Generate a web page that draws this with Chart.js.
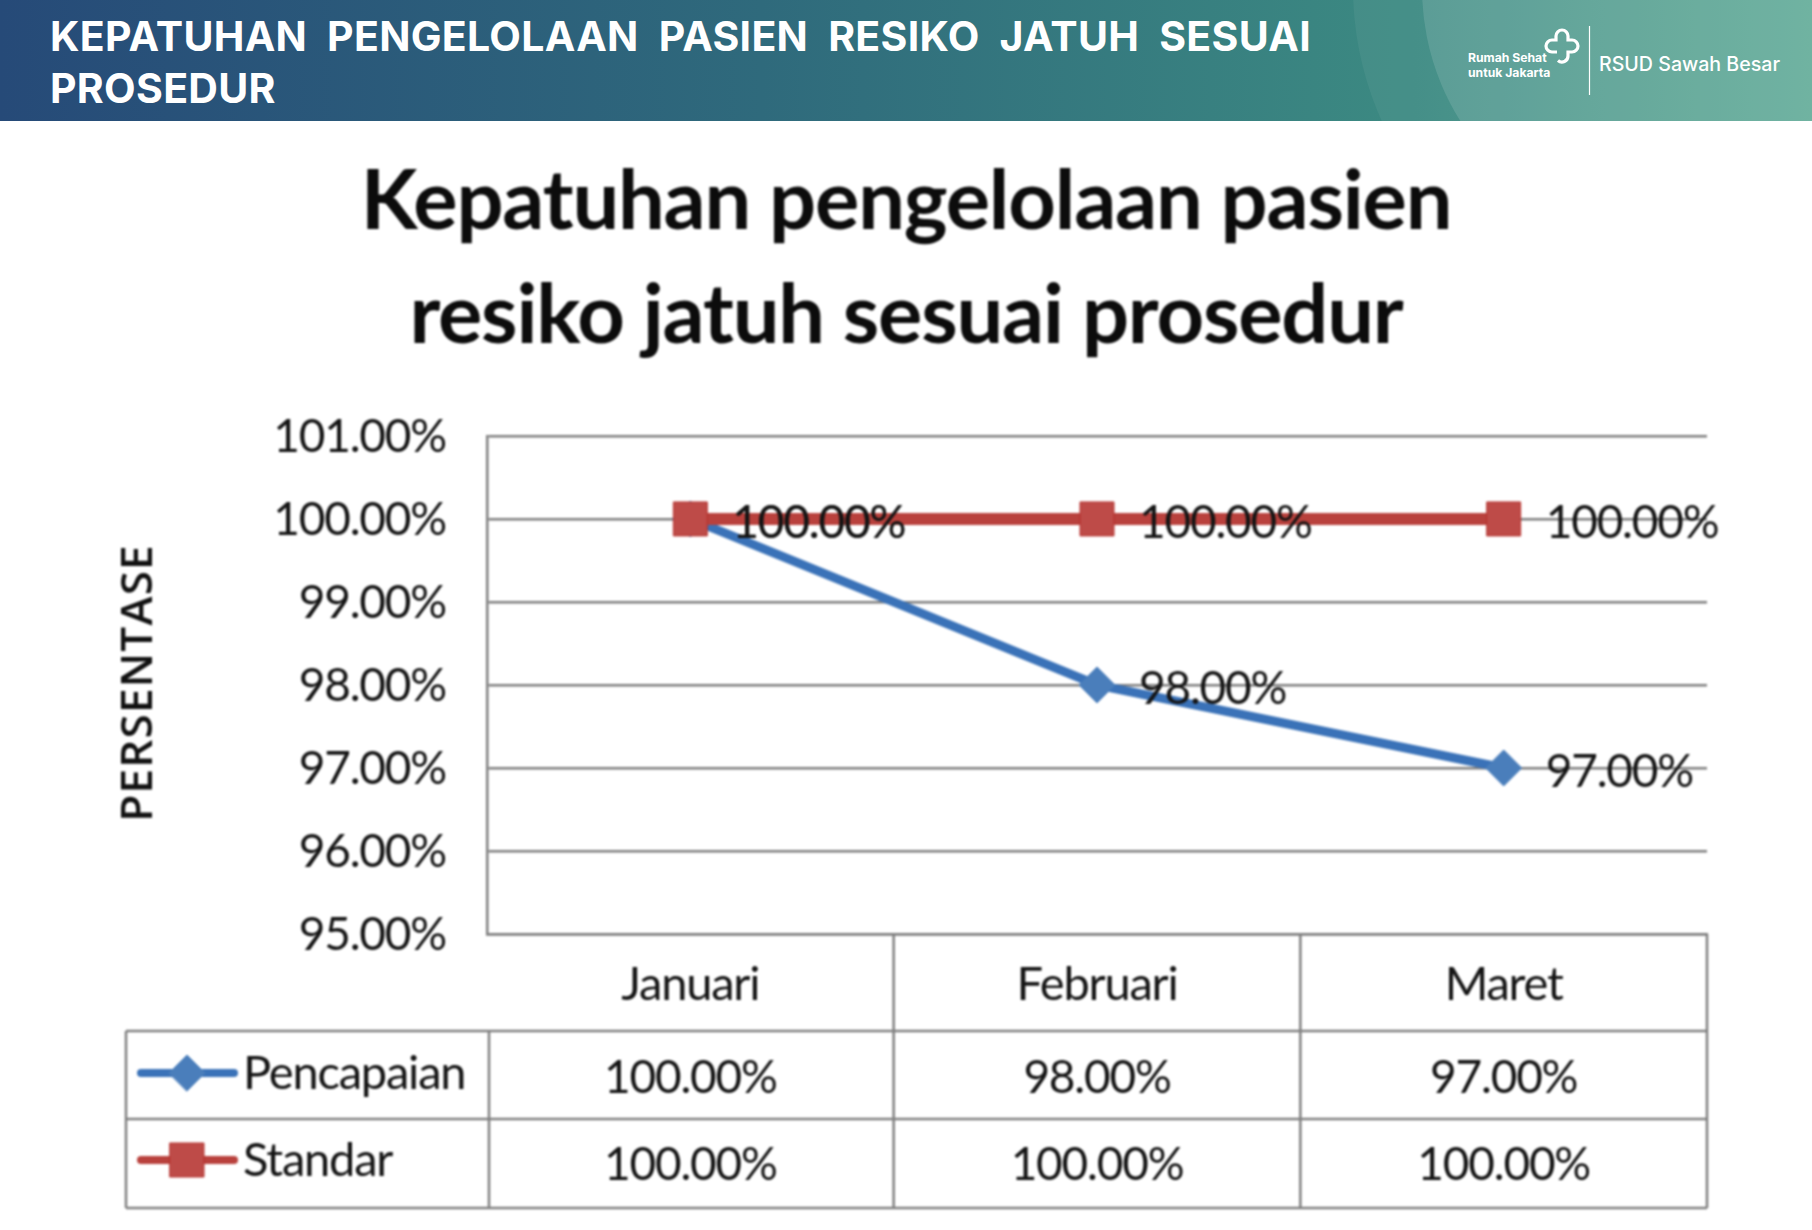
<!DOCTYPE html>
<html>
<head>
<meta charset="utf-8">
<title>Kepatuhan pengelolaan pasien resiko jatuh</title>
<script src="https://cdn.jsdelivr.net/npm/chart.js@4"></script>
<style>
  html, body { margin: 0; padding: 0; background: #fff; width: 1812px; height: 1230px; overflow: hidden; }
  #banner { position: absolute; left: 0; top: 0; width: 1812px; height: 121px; overflow: hidden;
            background: linear-gradient(90deg, #264a78 0%, #2f6a7c 42%, #3c8a82 78%, #55a590 100%); }
  #banner svg { position: absolute; left: 0; top: 0; }
  #heading { position: absolute; left: 50px; top: 10px; width: 1300px; margin: 0; color: #fff;
             font: 700 41px/52px Inter, sans-serif; letter-spacing: 0.3px; word-spacing: 10px; }
  #logoText { position: absolute; left: 1468px; top: 50px; color: #fff; font: 700 12.2px/15px Inter, sans-serif; }
  #hospital { position: absolute; left: 1599px; top: 51px; color: #fff; font: 500 19.6px/26px Inter, sans-serif; }
  #chart { position: absolute; left: 0; top: 121px; filter: blur(0.8px); }
</style>
</head>
<body>
<div id="banner">
  <svg width="1812" height="121">
    <circle cx="1675" cy="-12" r="322" fill="#ffffff" fill-opacity="0.05"/>
    <circle cx="1672" cy="-12" r="250" fill="#ffffff" fill-opacity="0.12"/>
    <path d="M1557 52 H1552 a6 6 0 0 1 0 -12 H1556 V36 a6 6 0 0 1 12 0 V40 H1572 a6 6 0 0 1 0 12 H1568 V56 a6 6 0 0 1 -10 4.5"
          fill="none" stroke="#fff" stroke-width="3.2"/>
    <line x1="1589.5" y1="26" x2="1589.5" y2="95" stroke="#fff" stroke-width="1.2"/>
  </svg>
  <h1 id="heading">KEPATUHAN PENGELOLAAN PASIEN RESIKO JATUH SESUAI PROSEDUR</h1>
  <div id="logoText">Rumah Sehat<br>untuk Jakarta</div>
  <div id="hospital">RSUD Sawah Besar</div>
</div>
<canvas id="chart" width="1812" height="1109"></canvas>
<script>
const categories = ['Januari', 'Februari', 'Maret'];
const pencapaian = [100, 98, 97];
const standar = [100, 100, 100];
const seriesNames = ['Pencapaian', 'Standar'];
const titleLines = ['Kepatuhan pengelolaan pasien', 'resiko jatuh sesuai prosedur'];
const axisTitle = 'PERSENTASE';

const FONT = 'Lato, sans-serif';
const INK = '#141414';
const RULE = '#7f7f7f';
const pct = v => Number(v).toFixed(2) + '%';

// Table geometry below the plot, relative to the canvas
const tableLeft = 126;
const rowLines = [910, 998, 1087];
const rowCentres = [957, 1044];
const keyLine = [141, 234];
const keyMarkerX = 187;
const keyTextX = 243;

const tightText = {
  id: 'tightText',
  beforeDraw(chart) { chart.ctx.letterSpacing = '-1.2px'; }
};

// Rotated axis caption, spaced wider than the rest of the text
const axisCaption = {
  id: 'axisCaption',
  afterDraw(chart) {
    const { ctx, scales: { y } } = chart;
    ctx.save();
    ctx.translate(139, (y.top + y.bottom) / 2 - 2);
    ctx.rotate(-Math.PI / 2);
    ctx.letterSpacing = '1.2px';
    ctx.font = '600 44px "Open Sans", sans-serif';
    ctx.fillStyle = '#111';
    ctx.textAlign = 'center';
    ctx.textBaseline = 'middle';
    ctx.fillText(axisTitle, 0, 0);
    ctx.restore();
  }
};

// Value labels to the right of each point
const valueLabels = {
  id: 'valueLabels',
  afterDatasetsDraw(chart) {
    const { ctx } = chart;
    ctx.save();
    ctx.font = '400 46px ' + FONT;
    ctx.fillStyle = INK;
    ctx.textAlign = 'left';
    ctx.textBaseline = 'middle';
    chart.data.datasets.forEach((ds, d) => {
      chart.getDatasetMeta(d).data.forEach((pt, i) => {
        ctx.fillText(pct(ds.data[i]), pt.x + 42, pt.y + 4);
      });
    });
    ctx.restore();
  }
};

// Data table with legend keys drawn under the category axis
const dataTable = {
  id: 'dataTable',
  afterDraw(chart) {
    const { ctx, scales: { x, y } } = chart;
    const bottom = y.bottom;
    const half = (x.getPixelForValue(1) - x.getPixelForValue(0)) / 2;
    const colEdges = categories.map((_, i) => x.getPixelForValue(i) - half).concat(x.right);
    ctx.save();
    ctx.strokeStyle = RULE;
    ctx.lineWidth = 2.5;
    ctx.beginPath();
    rowLines.forEach(ly => { ctx.moveTo(tableLeft, ly); ctx.lineTo(x.right, ly); });
    ctx.moveTo(tableLeft, rowLines[0]); ctx.lineTo(tableLeft, rowLines[2]);
    colEdges.forEach((ex, i) => { ctx.moveTo(ex + (i === 0 ? 2 : 0), i === 0 ? rowLines[0] : bottom); ctx.lineTo(ex + (i === 0 ? 2 : 0), rowLines[2]); });
    ctx.stroke();

    chart.data.datasets.forEach((ds, d) => {
      const cy = rowCentres[d];
      const keyY = cy - 5;
      ctx.strokeStyle = ds.borderColor;
      ctx.lineWidth = 8;
      ctx.lineCap = 'round';
      ctx.beginPath(); ctx.moveTo(keyLine[0], keyY); ctx.lineTo(keyLine[1], keyY); ctx.stroke();
      ctx.fillStyle = ds.pointBackgroundColor;
      ctx.strokeStyle = ds.pointBorderColor;
      ctx.lineWidth = 1;
      Chart.helpers.drawPoint(ctx, { pointStyle: ds.pointStyle, rotation: 0, radius: ds.pointRadius, borderWidth: 1 }, keyMarkerX, keyY);
      ctx.fillStyle = INK;
      ctx.font = '400 47px ' + FONT;
      ctx.textBaseline = 'middle';
      ctx.textAlign = 'left';
      ctx.fillText(seriesNames[d], keyTextX, cy - 4);
      ctx.font = '400 46px ' + FONT;
      ctx.textAlign = 'center';
      ds.data.forEach((v, i) => ctx.fillText(pct(v), x.getPixelForValue(i), cy));
    });
    ctx.restore();
  }
};

new Chart(document.getElementById('chart'), {
  type: 'line',
  data: {
    labels: categories,
    datasets: [
      { label: seriesNames[0], data: pencapaian, order: 2, borderColor: '#3a72b8', borderWidth: 9,
        pointStyle: 'rectRot', pointRadius: 18, pointBackgroundColor: '#4a7ebb', pointBorderColor: '#4a7ebb', pointBorderWidth: 1, tension: 0 },
      { label: seriesNames[1], data: standar, order: 1, borderColor: '#b9413d', borderWidth: 12,
        pointStyle: 'rect', pointRadius: 24, pointBackgroundColor: '#be4b48', pointBorderColor: '#b5302c', pointBorderWidth: 1, tension: 0 }
    ]
  },
  plugins: [tightText, valueLabels, dataTable, axisCaption],
  options: {
    responsive: false,
    animation: false,
    devicePixelRatio: 1,
    layout: { padding: { left: 105, right: 105, top: 0, bottom: 196 } },
    plugins: {
      legend: { display: false },
      tooltip: { enabled: false },
      title: {
        display: true,
        text: titleLines,
        color: '#0c0c0c',
        font: { family: FONT, size: 83, weight: '700', lineHeight: 1.373 },
        padding: { top: 24, bottom: 63 }
      }
    },
    scales: {
      x: {
        offset: true,
        afterFit(s) { s.height = 100; },
        grid: { display: false, drawTicks: false },
        border: { color: RULE, width: 2.5 },
        ticks: { color: INK, font: { family: FONT, size: 47 }, padding: 23, maxRotation: 0 }
      },
      y: {
        min: 95,
        max: 101,
        afterFit(s) { s.width = 382; },
        grid: { color: RULE, lineWidth: 2.5, drawTicks: false },
        border: { color: RULE, width: 2.5 },
        ticks: { stepSize: 1, color: INK, font: { family: FONT, size: 46 }, padding: 41, labelOffset: 1.5, callback: pct }
      }
    }
  }
});
</script>
</body>
</html>
